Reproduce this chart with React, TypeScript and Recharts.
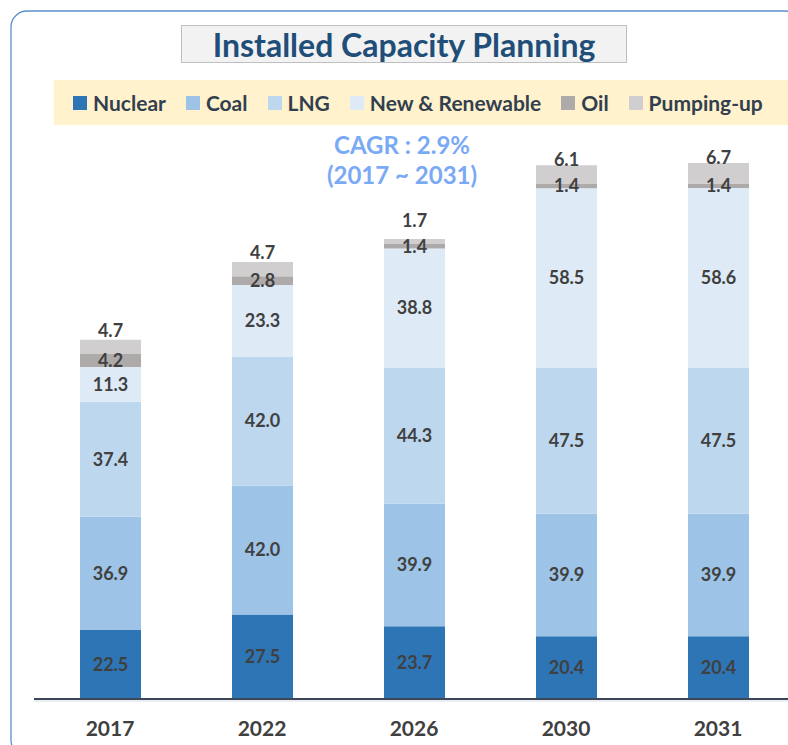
import React from 'react';
import { BarChart, Bar, XAxis, YAxis, LabelList } from 'recharts';

const years = ['2017', '2022', '2026', '2030', '2031'];
const nuclear = [22.5, 27.5, 23.7, 20.4, 20.4];
const coal = [36.9, 42.0, 39.9, 39.9, 39.9];
const lng = [37.4, 42.0, 44.3, 47.5, 47.5];
const renewable = [11.3, 23.3, 38.8, 58.5, 58.6];
const oil = [4.2, 2.8, 1.4, 1.4, 1.4];
const pumping = [4.7, 4.7, 1.7, 6.1, 6.7];

const seriesNames = ['Nuclear', 'Coal', 'LNG', 'New & Renewable', 'Oil', 'Pumping-up'];
const seriesKeys = ['nuclear', 'coal', 'lng', 'renewable', 'oil', 'pumping'];
const seriesColors = ['#2e75b6', '#9dc3e6', '#bdd7ee', '#deebf7', '#aeaaaa', '#d0cece'];

const data = years.map((y, i) => ({
  year: y,
  nuclear: nuclear[i],
  coal: coal[i],
  lng: lng[i],
  renewable: renewable[i],
  oil: oil[i],
  pumping: pumping[i],
}));

const FONT = 'Lato, "Open Sans", sans-serif';
const labelColor = '#404040';
const fmt = (v: any) => Number(v).toFixed(1);

const TopLabel = (props: any) => {
  const vb = props.viewBox || {};
  const x = props.x ?? vb.x;
  const y = props.y ?? vb.y;
  const w = props.width ?? vb.width;
  const h = props.height ?? vb.height ?? 0;
  const cy = Math.min(y - 6, y + h - 24);
  return (
    <text
      x={x + w / 2}
      y={cy}
      textAnchor="middle"
      dominantBaseline="central"
      fill={labelColor}
      fontSize={18}
      fontWeight="bold"
      fontFamily={FONT}
    >
      {fmt(props.value)}
    </text>
  );
};

export default function App() {
  return (
    <div
      style={{
        position: 'fixed',
        left: 0,
        top: 0,
        width: 788,
        height: 745,
        overflow: 'hidden',
        background: '#ffffff',
        fontFamily: FONT,
      }}
    >
      <svg width={788} height={745} style={{ position: 'absolute', left: 0, top: 0 }}>
        <rect x={11} y={11} width={790} height={745} rx={16} ry={16} fill="none" stroke="#5b8fd0" strokeWidth={1.3} />
        <line x1={34} x2={788} y1={701} y2={701} stroke="#d6dce5" strokeWidth={1} />
      </svg>
      <div
        style={{
          position: 'absolute',
          left: 181,
          top: 25,
          width: 446,
          height: 38,
          boxSizing: 'border-box',
          background: '#f2f2f2',
          border: '1.5px solid #bfbfbf',
          display: 'flex',
          alignItems: 'center',
          justifyContent: 'center',
          color: '#1f4e79',
          fontWeight: 'bold',
          fontSize: 32,
          whiteSpace: 'nowrap',
        }}
      >
        Installed Capacity Planning
      </div>
      <div
        style={{
          position: 'absolute',
          left: 54,
          top: 80,
          width: 740,
          height: 45,
          background: '#fff2cc',
          display: 'flex',
          alignItems: 'center',
          paddingLeft: 19,
          boxSizing: 'border-box',
          color: '#323f4f',
          fontWeight: 'bold',
          fontSize: 21,
          whiteSpace: 'nowrap',
        }}
      >
        {seriesNames.map((n, i) => (
          <div key={n} style={{ display: 'flex', alignItems: 'center', marginRight: 20, flexShrink: 0 }}>
            <div style={{ width: 14, height: 14, background: seriesColors[i], marginRight: 6, flexShrink: 0 }} />
            <span style={{ whiteSpace: 'nowrap' }}>{n}</span>
          </div>
        ))}
      </div>
      <div
        style={{
          position: 'absolute',
          left: 250,
          width: 304,
          top: 130,
          textAlign: 'center',
          color: '#7aa9f5',
          fontWeight: 'bold',
          fontSize: 24,
          lineHeight: '30px',
        }}
      >
        <div>CAGR : 2.9%</div>
        <div>(2017 ~ 2031)</div>
      </div>
      <div style={{ position: 'absolute', left: 0, top: 0 }}>
        <BarChart
          width={800}
          height={745}
          data={data}
          margin={{ top: 140, right: 6, left: 34, bottom: 16 }}
          barCategoryGap={0}
        >
          <XAxis
            dataKey="year"
            height={30}
            axisLine={{ stroke: '#3b4656', strokeWidth: 2 }}
            tickLine={false}
            tickSize={0}
            tickMargin={22}
            tick={{ fill: labelColor, fontSize: 21, fontWeight: 'bold', fontFamily: FONT }}
          />
          <YAxis hide domain={[0, 182]} />
          {seriesKeys.map((k, i) => (
            <Bar
              key={k}
              dataKey={k}
              name={seriesNames[i]}
              stackId="a"
              fill={seriesColors[i]}
              barSize={61}
              isAnimationActive={false}
            >
              {k === 'pumping' ? (
                <LabelList dataKey={k} content={<TopLabel />} />
              ) : (
                <LabelList
                  dataKey={k}
                  position="center"
                  formatter={fmt}
                  fill={labelColor}
                  fontSize={18}
                  fontWeight="bold"
                  fontFamily={FONT}
                />
              )}
            </Bar>
          ))}
        </BarChart>
      </div>
    </div>
  );
}
